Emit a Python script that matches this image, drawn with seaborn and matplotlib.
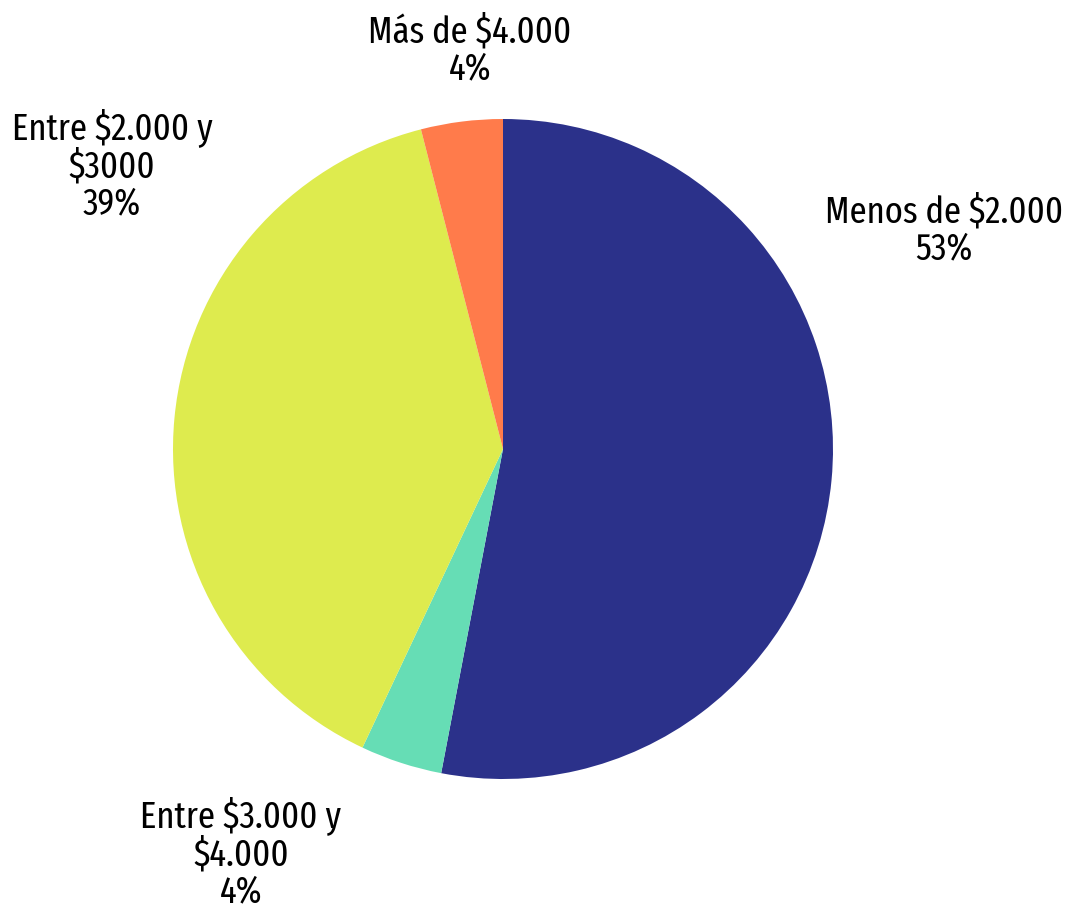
import matplotlib
matplotlib.use("Agg")
import matplotlib.pyplot as plt
import seaborn as sns

categories = ["Menos de $2.000", "Entre $3.000 y\n$4.000", "Entre $2.000 y\n$3000", "Más de $4.000"]
values = [53, 4, 39, 4]
colors = ["#2B318A", "#66DDB5", "#DEEB4E", "#FF7B4B"]

sns.set_theme(style="white")
plt.rcParams['font.family'] = ['Fira Sans Extra Condensed', 'DejaVu Sans']

fig = plt.figure(figsize=(10.67, 9.14), dpi=100)
ax = fig.add_axes([0, 0, 1, 1])

labels = [f"{c}\n{v}%" for c, v in zip(categories, values)]
wedges, texts = ax.pie(values, colors=colors, startangle=90, counterclock=False,
                       labels=labels, radius=1.0,
                       wedgeprops=dict(linewidth=0),
                       textprops=dict(ha="center", va="center", fontsize=27,
                                      fontweight="normal",
                                      color="#000000", linespacing=1.05))

label_pos = [(1.336, 0.664), (-0.794, -1.224), (-1.185, 0.86), (-0.10, 1.21)]
for t, p in zip(texts, label_pos):
    t.set_position(p)
    t.set_multialignment("center")

ax.set_aspect("auto")
ax.set_xlim(-503 / 330, (1067 - 503) / 330)
ax.set_ylim(-(914 - 449) / 330, 449 / 330)
ax.axis("off")

fig.savefig("out.png", dpi=100, facecolor="white")
